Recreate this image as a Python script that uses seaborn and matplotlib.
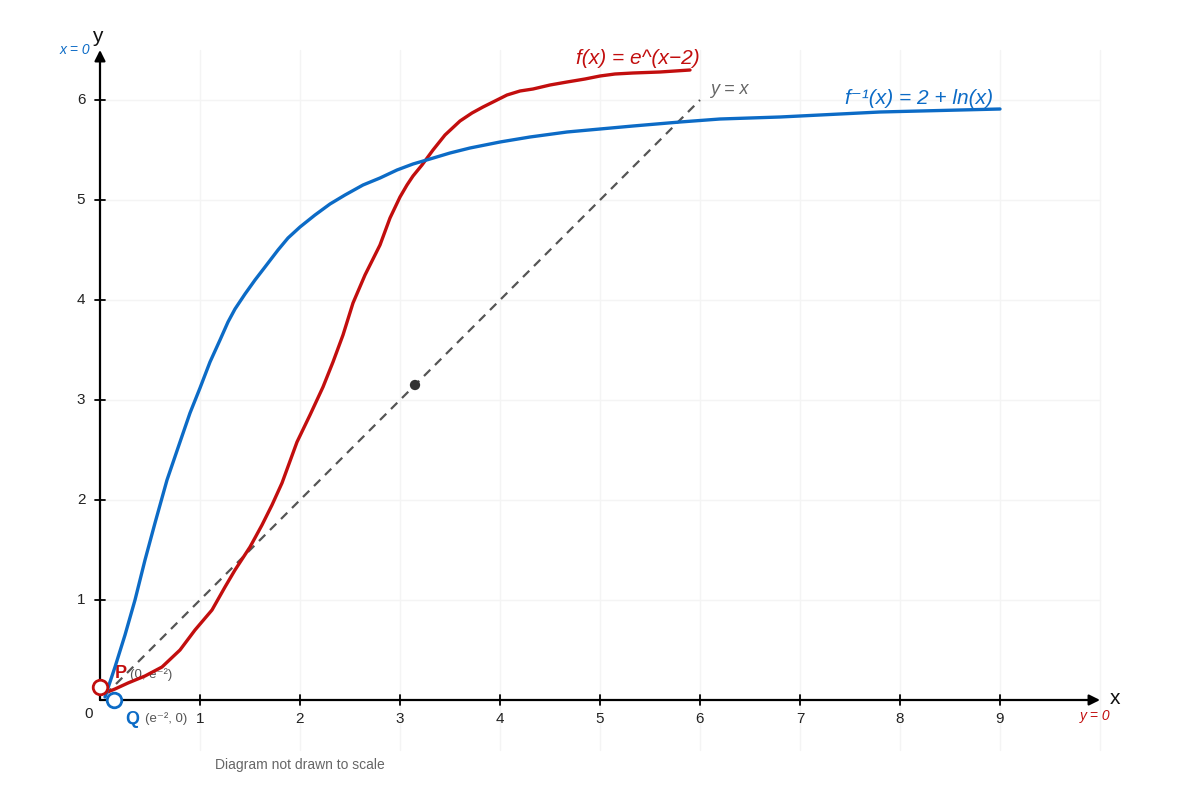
import numpy as np
import pandas as pd
import matplotlib
matplotlib.use("Agg")
import matplotlib.pyplot as plt
import seaborn as sns

# DATA
f_x = [0.05, 0.15, 0.28, 0.45, 0.62, 0.8, 0.95, 1.12, 1.25, 1.35, 1.5, 1.62,
       1.72, 1.82, 1.97, 2.1, 2.23, 2.33, 2.43, 2.53, 2.65, 2.8, 2.9, 3.0,
       3.07, 3.13, 3.22, 3.33, 3.45, 3.6, 3.72, 3.83, 3.95, 4.07, 4.2, 4.33,
       4.5, 4.67, 4.85, 5.0, 5.15, 5.33, 5.6, 5.9]
f_y = [0.07, 0.11, 0.17, 0.24, 0.33, 0.5, 0.7, 0.9, 1.13, 1.3, 1.53, 1.75,
       1.95, 2.17, 2.58, 2.85, 3.13, 3.38, 3.65, 3.97, 4.25, 4.55, 4.82, 5.03,
       5.15, 5.24, 5.35, 5.5, 5.65, 5.79, 5.87, 5.93, 5.99, 6.05, 6.09, 6.11,
       6.15, 6.18, 6.21, 6.24, 6.26, 6.27, 6.28, 6.3]

finv_x = [0.05, 0.15, 0.25, 0.35, 0.45, 0.55, 0.67, 0.8, 0.9, 1.0, 1.1, 1.2,
          1.28, 1.35, 1.45, 1.55, 1.65, 1.78, 1.88, 2.0, 2.15, 2.3, 2.45,
          2.63, 2.8, 2.97, 3.13, 3.3, 3.5, 3.7, 3.85, 4.0, 4.3, 4.67, 5.0,
          5.33, 5.8, 6.2, 6.8, 7.8, 9.0]
finv_y = [0.03, 0.33, 0.65, 1.0, 1.4, 1.77, 2.2, 2.58, 2.87, 3.12, 3.38, 3.6,
          3.78, 3.91, 4.06, 4.2, 4.33, 4.5, 4.62, 4.73, 4.85, 4.96, 5.05,
          5.15, 5.22, 5.30, 5.36, 5.41, 5.47, 5.52, 5.55, 5.58, 5.63, 5.68, 5.71,
          5.74, 5.78, 5.81, 5.83, 5.88, 5.91]

diag_x = [0.05, 6.0]
diag_y = [0.05, 6.0]

mid_point = [3.15, 3.15]
p_point = [0.0, 0.135]
q_point = [0.135, 0.0]

x_ticks = [1, 2, 3, 4, 5, 6, 7, 8, 9]
y_ticks = [1, 2, 3, 4, 5, 6]

RED = "#c20e0e"
BLUE = "#0c6bc6"

sns.set_theme(style="white")
plt.rcParams["font.family"] = ["Liberation Sans", "DejaVu Sans"]

fig = plt.figure(figsize=(12, 8), dpi=100)
ax = fig.add_axes([0, 0, 1, 1])
ax.set_xlim(-1, 11)
ax.set_ylim(-1, 7)
ax.axis("off")

# faint grid
for gx in range(1, 11):
    ax.plot([gx, gx], [-0.5, 6.5], color="#f4f4f4", lw=1, zorder=0)
for gy in y_ticks:
    ax.plot([0, 10], [gy, gy], color="#f4f4f4", lw=1, zorder=0)

# axes with arrows
ax.annotate("", xy=(10.0, 0), xytext=(0, 0),
            arrowprops=dict(arrowstyle="-|>", color="black", lw=1.6,
                            mutation_scale=16, shrinkA=0, shrinkB=0), zorder=3)
ax.annotate("", xy=(0, 6.5), xytext=(0, 0),
            arrowprops=dict(arrowstyle="-|>", color="black", lw=1.6,
                            mutation_scale=16, shrinkA=0, shrinkB=0), zorder=3)

for t in x_ticks:
    ax.plot([t, t], [-0.05, 0.05], color="black", lw=1.3, zorder=3)
    ax.text(t, -0.19, str(t), ha="center", va="center", fontsize=11, color="#222")
for t in y_ticks:
    ax.plot([-0.05, 0.05], [t, t], color="black", lw=1.3, zorder=3)
    ax.text(-0.19, t, str(t), ha="center", va="center", fontsize=11, color="#222")
ax.text(-0.11, -0.14, "0", ha="center", va="center", fontsize=11, color="#222")

ax.text(10.15, 0.01, "x", ha="center", va="center", fontsize=15, color="#111")
ax.text(-0.03, 6.64, "y", ha="center", va="center", fontsize=15, color="#111")
ax.text(-0.25, 6.5, "x = 0", ha="center", va="center", fontsize=10,
        color=BLUE, style="italic")
ax.text(9.95, -0.16, "y = 0", ha="center", va="center", fontsize=10,
        color=RED, style="italic")

# y = x reference
diag_df = pd.DataFrame({"x": diag_x, "y": diag_y})
sns.lineplot(data=diag_df, x="x", y="y", ax=ax, color="#555555", lw=1.6,
             linestyle=(0, (4, 3)), sort=False, zorder=2)

# curves
f_df = pd.DataFrame({"x": f_x, "y": f_y})
finv_df = pd.DataFrame({"x": finv_x, "y": finv_y})
sns.lineplot(data=f_df, x="x", y="y", ax=ax, color=RED, lw=2.4, sort=False, zorder=4)
sns.lineplot(data=finv_df, x="x", y="y", ax=ax, color=BLUE, lw=2.4, sort=False, zorder=4)

# points
sns.scatterplot(x=[mid_point[0]], y=[mid_point[1]], ax=ax, color="#333333",
                s=55, edgecolor="none", zorder=5)
ax.scatter([p_point[0]], [p_point[1]], s=110, facecolor="white", edgecolor=RED,
           linewidth=2, zorder=6)
ax.scatter([q_point[0]], [q_point[1]], s=110, facecolor="white", edgecolor=BLUE,
           linewidth=2, zorder=6)

ax.text(0.15, 0.26, "P", ha="left", va="center", fontsize=13, color=RED,
        fontweight="bold")
ax.text(0.3, 0.25, "(0, e\u207b\u00b2)", ha="left", va="center", fontsize=9.5,
        color="#555")
ax.text(0.25, -0.19, "Q", ha="left", va="center", fontsize=13, color=BLUE,
        fontweight="bold")
ax.text(0.45, -0.19, "(e\u207b\u00b2, 0)", ha="left", va="center", fontsize=9.5,
        color="#555")

# curve labels
ax.text(5.38, 6.42, "f(x) = e^(x\u22122)", ha="center", va="center", fontsize=15,
        color=RED, style="italic")
ax.text(6.1, 6.11, "y = x", ha="left", va="center", fontsize=13,
        color="#666", style="italic")
ax.text(8.19, 6.02, "f\u207b\u00b9(x) = 2 + ln(x)", ha="center", va="center",
        fontsize=15, color=BLUE, style="italic")

ax.text(2.0, -0.65, "Diagram not drawn to scale", ha="center", va="center",
        fontsize=10, color="#666")

fig.savefig("out.png", dpi=100)
